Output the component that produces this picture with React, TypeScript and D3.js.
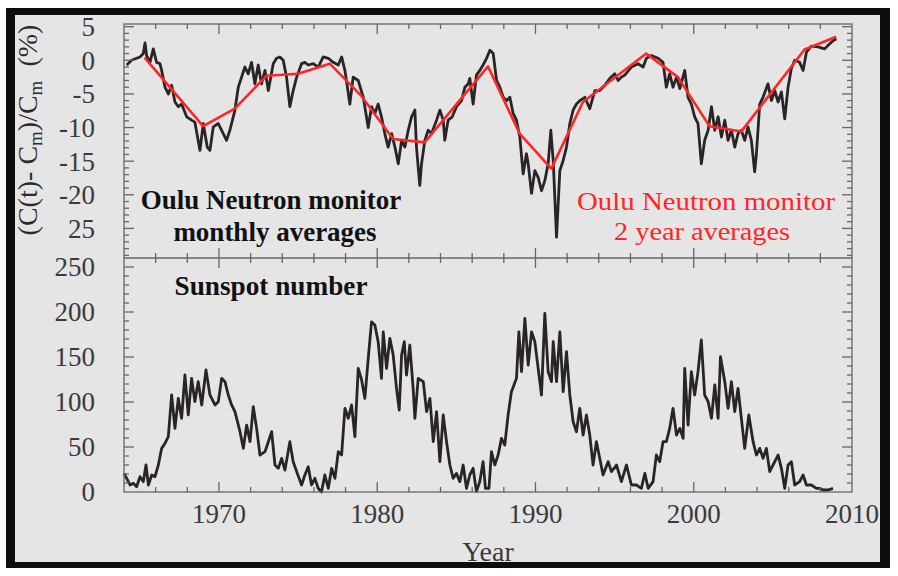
import React from "react";
import * as d3 from "d3";

// Oulu neutron monitor, monthly averages (% deviation)
const nmYears = [1964.17,1964.48,1964.80,1965.01,1965.22,1965.33,1965.43,1965.64,1965.85,1966.06,1966.27,1966.38,1966.59,1966.80,1967.01,1967.22,1967.43,1967.64,1967.96,1968.27,1968.48,1968.80,1969.01,1969.26,1969.43,1969.64,1969.96,1970.27,1970.48,1970.69,1971.01,1971.22,1971.43,1971.64,1971.85,1972.06,1972.27,1972.48,1972.69,1972.91,1973.12,1973.43,1973.64,1973.85,1974.06,1974.27,1974.48,1974.69,1974.91,1975.22,1975.43,1975.64,1975.96,1976.27,1976.59,1976.91,1977.22,1977.54,1977.75,1977.96,1978.27,1978.48,1978.80,1979.12,1979.43,1979.64,1979.85,1980.06,1980.27,1980.48,1980.69,1980.91,1981.12,1981.33,1981.54,1981.75,1981.96,1982.17,1982.38,1982.48,1982.69,1982.80,1983.01,1983.22,1983.43,1983.75,1983.96,1984.17,1984.27,1984.48,1984.74,1985.01,1985.33,1985.54,1985.75,1985.85,1986.06,1986.27,1986.48,1986.69,1986.91,1987.12,1987.33,1987.54,1987.75,1987.96,1988.17,1988.38,1988.59,1988.80,1989.01,1989.22,1989.43,1989.54,1989.75,1989.96,1990.17,1990.38,1990.59,1990.80,1990.97,1991.12,1991.33,1991.54,1991.75,1991.96,1992.17,1992.38,1992.59,1992.80,1993.12,1993.43,1993.75,1994.06,1994.38,1994.69,1995.01,1995.22,1995.43,1995.64,1996.06,1996.48,1996.80,1997.01,1997.33,1997.75,1998.06,1998.27,1998.48,1998.69,1998.91,1999.12,1999.43,1999.64,1999.85,2000.06,2000.27,2000.48,2000.69,2000.91,2001.12,2001.33,2001.54,2001.75,2001.96,2002.17,2002.38,2002.59,2002.80,2003.01,2003.22,2003.43,2003.64,2003.85,2003.96,2004.06,2004.17,2004.38,2004.69,2004.91,2005.12,2005.33,2005.54,2005.75,2005.96,2006.17,2006.38,2006.69,2006.91,2007.12,2007.43,2007.85,2008.27,2008.48,2008.80,2009.01];
const nmValues = [-0.7,0,0.3,0.5,1.0,2.6,0.7,-0.3,1.7,-0.3,-0.5,-1.5,-4.0,-5.0,-3.7,-6.2,-6.9,-6.5,-8.4,-8.9,-9.2,-13.4,-9.4,-12.9,-13.4,-9.9,-9.4,-10.9,-11.9,-10.4,-7.4,-4.0,-2.5,-1.0,-2.0,-0.3,-3.5,-0.7,-3.5,-1.5,-4.5,-0.5,0.3,0.5,0,-2.5,-6.9,-4.5,-2.5,-0.5,-0.3,-0.7,-0.5,-1.0,0.5,0.3,-0.3,-0.7,0.5,-1.5,-6.5,-2.5,-3.0,-5.5,-10.0,-6.9,-7.9,-6.5,-8.4,-10.9,-12.9,-10.9,-12.9,-15.4,-11.9,-12.9,-10.4,-8.4,-7.4,-12.9,-18.6,-15.4,-11.9,-10.4,-10.9,-8.9,-7.4,-8.9,-11.9,-8.9,-8.4,-6.9,-6.0,-4.0,-3.5,-2.7,-6.5,-2.2,-1.5,-0.7,0.3,1.5,1.0,-3.0,-4.0,-5.5,-6.0,-5.5,-7.9,-8.9,-11.4,-16.9,-13.9,-15.4,-19.8,-16.4,-17.4,-19.4,-17.9,-15.4,-10.4,-14.9,-26.3,-16.4,-14.9,-12.9,-9.4,-7.4,-6.5,-6.0,-5.5,-7.2,-4.5,-4.5,-3.7,-2.7,-2.0,-3.0,-2.5,-2.2,-1.0,-0.5,-1.0,0.3,0.7,0.3,-0.3,-4.0,-2.0,-4.0,-2.5,-4.2,-1.5,-5.5,-6.5,-8.4,-9.4,-15.4,-11.9,-10.4,-6.9,-10.4,-8.4,-11.4,-8.9,-11.9,-10.4,-12.9,-10.9,-10.4,-11.9,-9.9,-11.9,-16.6,-13.9,-10.4,-6.5,-5.5,-3.5,-6.0,-4.5,-6.2,-4.7,-8.7,-4.0,-1.2,0,-0.3,-1.5,1.2,2.1,2.0,1.7,2.2,2.9,3.2];

// Oulu neutron monitor, 2 year averages
const avgYears = [1965.3,1969.0,1971.0,1973.0,1975.0,1977.0,1979.0,1981.0,1983.0,1987.0,1989.0,1991.0,1993.0,1997.0,1999.0,2001.0,2003.0,2007.0,2009.0];
const avgValues = [0.4,-9.8,-7.2,-2.3,-2.0,-0.5,-5.3,-11.7,-12.2,-0.9,-10.9,-16.1,-6.2,1.0,-2.5,-9.8,-10.6,1.6,3.5];

// Sunspot number
const ssYears = [1964.00,1964.17,1964.38,1964.59,1964.80,1965.01,1965.22,1965.39,1965.54,1965.75,1965.96,1966.17,1966.38,1966.59,1966.80,1967.01,1967.22,1967.43,1967.64,1967.85,1968.06,1968.27,1968.48,1968.69,1968.91,1969.18,1969.43,1969.75,1969.96,1970.17,1970.38,1970.59,1970.80,1971.01,1971.33,1971.54,1971.75,1971.96,1972.17,1972.38,1972.59,1972.91,1973.12,1973.33,1973.54,1973.75,1973.96,1974.17,1974.48,1974.69,1974.91,1975.22,1975.43,1975.64,1975.85,1976.06,1976.27,1976.48,1976.69,1976.91,1977.12,1977.33,1977.54,1977.75,1977.96,1978.17,1978.38,1978.59,1978.80,1979.01,1979.22,1979.43,1979.64,1979.85,1980.06,1980.27,1980.38,1980.59,1980.80,1981.01,1981.22,1981.39,1981.54,1981.71,1981.85,1982.06,1982.27,1982.38,1982.59,1982.91,1983.12,1983.33,1983.54,1983.75,1983.96,1984.17,1984.38,1984.59,1984.80,1985.01,1985.22,1985.43,1985.64,1985.85,1986.06,1986.27,1986.48,1986.69,1986.84,1987.06,1987.22,1987.43,1987.64,1987.85,1988.06,1988.27,1988.48,1988.80,1988.95,1989.12,1989.33,1989.54,1989.75,1989.96,1990.17,1990.38,1990.59,1990.80,1991.01,1991.12,1991.33,1991.54,1991.75,1991.96,1992.17,1992.38,1992.59,1992.80,1993.01,1993.22,1993.43,1993.64,1993.85,1994.06,1994.27,1994.59,1994.80,1995.12,1995.43,1995.75,1996.06,1996.38,1996.69,1996.91,1997.12,1997.43,1997.64,1997.85,1998.06,1998.27,1998.48,1998.69,1998.91,1999.12,1999.33,1999.43,1999.64,1999.85,2000.06,2000.27,2000.48,2000.69,2000.91,2001.12,2001.33,2001.54,2001.69,2001.96,2002.17,2002.38,2002.59,2002.80,2003.01,2003.22,2003.48,2003.75,2003.96,2004.17,2004.38,2004.59,2004.80,2005.01,2005.33,2005.54,2005.75,2005.96,2006.17,2006.38,2006.69,2006.91,2007.12,2007.43,2007.75,2007.96,2008.17,2008.48,2008.80];
const ssValues = [20.7,15.2,7.8,9.6,5.9,17.0,11.5,30.0,7.8,18.9,17.0,30.0,48.5,54.0,61.5,107.8,70.7,104.0,81.9,130.0,85.6,126.3,100.4,122.6,96.7,135.6,107.8,96.7,100.4,126.3,122.6,107.8,96.7,89.3,67.0,48.5,74.4,55.9,94.8,70.7,41.1,44.8,55.9,67.0,30.0,26.3,37.4,24.4,55.9,33.7,22.6,7.8,18.9,28.1,7.8,15.2,4.1,0,18.9,4.1,26.3,15.2,44.8,41.1,93.0,81.9,96.7,61.5,137.4,125.0,104.0,148.0,189.0,185.6,167.0,126.3,178.0,137.4,170.7,152.2,115.2,91.1,152.2,167.0,130.0,163.3,115.2,81.9,126.3,122.6,89.3,104.0,55.9,89.3,33.7,85.6,55.9,30.0,15.2,20.7,11.5,30.0,4.1,18.9,26.3,0.4,11.5,33.7,4.1,4.1,44.8,30.0,41.1,59.6,52.2,85.6,111.5,126.3,178.0,133.7,193.0,141.1,178.0,167.0,137.4,107.8,198.5,133.7,122.6,167.0,122.6,178.0,111.5,155.9,107.8,78.1,67.0,93.0,63.3,85.6,63.3,30.0,55.9,37.4,18.9,33.7,22.6,30.0,11.5,30.0,7.8,7.8,4.1,20.7,4.1,11.5,41.1,33.7,55.9,55.9,70.7,93.0,63.3,70.7,59.6,137.4,74.4,133.7,107.8,133.7,168.9,107.8,100.4,81.9,118.9,81.9,150.4,122.6,93.0,122.6,89.3,115.2,81.9,48.5,85.6,55.9,41.1,48.5,37.4,48.5,22.6,30.0,41.1,26.3,4.1,30.0,33.7,7.8,11.5,18.9,7.8,7.8,4.1,4.1,2.2,2.2,4.1];

const xLabels = ["1970", "1980", "1990", "2000", "2010"];
const xLabelYears = [1970, 1980, 1990, 2000, 2010];
const topTickValues = [5, 0, -5, -10, -15, -20, -25];
const topTickLabels = ["5", "0", "-5", "-10", "-15", "-20", "25"];
const botTickValues = [0, 50, 100, 150, 200, 250];
const botTickLabels = ["0", "50", "100", "150", "200", "250"];

const W = 898, H = 576;
const L = 124, R = 852, T = 24, MID = 258, B = 492;
const FONT = "'Liberation Serif', 'Times New Roman', Times, serif";
const AX = "#666";
const LINE = "#2b2427";
const RED = "#ff2626";

export default function App() {
  const x = d3.scaleLinear().domain([1964, 2010]).range([L, R]);
  const yT = d3.scaleLinear().domain([5.4, -29.4]).range([T, MID]);
  const yB = d3.scaleLinear().domain([0, 260]).range([B, MID]);

  const nmData = nmYears.map((yr, i) => [yr, nmValues[i]] as [number, number]);
  const avgData = avgYears.map((yr, i) => [yr, avgValues[i]] as [number, number]);
  const ssData = ssYears.map((yr, i) => [yr, ssValues[i]] as [number, number]);

  const lineT = d3.line<[number, number]>().x(d => x(d[0])).y(d => yT(d[1]));
  const lineB = d3.line<[number, number]>().x(d => x(d[0])).y(d => yB(d[1]));

  const xMinor = d3.range(1966, 2010, 2);
  const yTMinor = d3.range(-29, 6, 1);
  const yBMinor = d3.range(10, 260, 10);

  const ticks: React.ReactNode[] = [];
  xMinor.forEach((yr, i) => {
    const major = yr % 10 === 0;
    const len = major ? 10 : 5;
    const px = x(yr);
    ticks.push(<line key={"xt" + i} x1={px} x2={px} y1={T} y2={T + len} />);
    ticks.push(<line key={"xm1" + i} x1={px} x2={px} y1={MID} y2={MID - len} />);
    ticks.push(<line key={"xm2" + i} x1={px} x2={px} y1={MID} y2={MID + len} />);
    ticks.push(<line key={"xb" + i} x1={px} x2={px} y1={B} y2={B - len} />);
  });
  yTMinor.forEach((v, i) => {
    const major = v % 5 === 0;
    const len = major ? 10 : 5;
    const py = yT(v);
    ticks.push(<line key={"ytl" + i} x1={L} x2={L + len} y1={py} y2={py} />);
    ticks.push(<line key={"ytr" + i} x1={R} x2={R - len} y1={py} y2={py} />);
  });
  yBMinor.forEach((v, i) => {
    const major = v % 50 === 0;
    const len = major ? 10 : 5;
    const py = yB(v);
    ticks.push(<line key={"ybl" + i} x1={L} x2={L + len} y1={py} y2={py} />);
    ticks.push(<line key={"ybr" + i} x1={R} x2={R - len} y1={py} y2={py} />);
  });

  return (
    <svg width={W} height={H} style={{ position: "absolute", left: 0, top: 0 }} fontFamily={FONT}>
      <rect x={0} y={0} width={W} height={H} fill="#ffffff" />
      <rect x={6} y={8} width={884} height={560} fill="#0d0d0d" />
      <rect x={15} y={15} width={865} height={547} fill="#e5e5e5" />

      {/* data */}
      <path d={lineT(nmData) || ""} fill="none" stroke={LINE} strokeWidth={2.8} strokeLinejoin="round" />
      <path d={lineT(avgData) || ""} fill="none" stroke={RED} strokeWidth={2.6} strokeLinejoin="round" />
      <path d={lineB(ssData) || ""} fill="none" stroke={LINE} strokeWidth={2.8} strokeLinejoin="round" />

      {/* axes */}
      <g stroke={AX} strokeWidth={1.3}>
        <rect x={L} y={T} width={R - L} height={B - T} fill="none" />
        <line x1={L} x2={R} y1={MID} y2={MID} />
        {ticks}
      </g>

      {/* tick labels */}
      <g fill="#3a3a3a" fontSize={27}>
        {topTickValues.map((v, i) => (
          <text key={"tl" + i} x={95} y={yT(v)} dy="0.35em" textAnchor="end">{topTickLabels[i]}</text>
        ))}
        {botTickValues.map((v, i) => (
          <text key={"bl" + i} x={95} y={yB(v)} dy="0.35em" textAnchor="end">{botTickLabels[i]}</text>
        ))}
        {xLabelYears.map((yr, i) => (
          <text key={"xl" + i} x={x(yr)} y={523} textAnchor="middle">{xLabels[i]}</text>
        ))}
        <text x={488} y={561} textAnchor="middle" fontSize={28}>Year</text>
      </g>

      {/* y title */}
      <text transform="translate(37,130) rotate(-90)" textAnchor="middle" fontSize={28} fill="#2a2a2a">
        (C(t)- C<tspan fontSize={19} dy={5}>m</tspan><tspan dy={-5}>)/C</tspan><tspan fontSize={19} dy={5}>m</tspan><tspan dy={-5}>{"\u00a0 (%)"}</tspan>
      </text>

      {/* annotations */}
      <g fontWeight="bold" fill="#111" fontSize={27} textAnchor="middle">
        <text x={271} y={209}>Oulu Neutron monitor</text>
        <text x={275} y={241}>monthly averages</text>
        <text x={271} y={295} textLength={193} lengthAdjust="spacingAndGlyphs">Sunspot number</text>
      </g>
      <g fill={RED} fontSize={26} textAnchor="middle">
        <text x={706} y={210} textLength={258} lengthAdjust="spacingAndGlyphs">Oulu Neutron monitor</text>
        <text x={702} y={240} textLength={176} lengthAdjust="spacingAndGlyphs">2 year averages</text>
      </g>
    </svg>
  );
}
